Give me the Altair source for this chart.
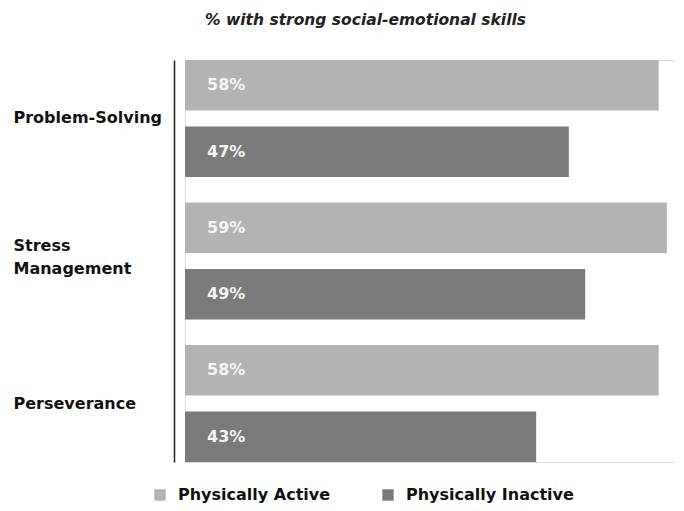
import altair as alt
import pandas as pd

skills = ["Problem-Solving", "Stress Management", "Perseverance"]
groups = ["Physically Active", "Physically Inactive"]
active = [58, 59, 58]
inactive = [47, 49, 43]
colors = ["#b3b3b3", "#7b7b7b"]

rows = []
for s, a, i in zip(skills, active, inactive):
    rows.append({"skill": s, "group": groups[0], "value": a, "label": f"{a}%"})
    rows.append({"skill": s, "group": groups[1], "value": i, "label": f"{i}%"})
df = pd.DataFrame(rows)

FONT = "DejaVu Sans"

y = alt.Y(
    "skill:N",
    sort=skills,
    scale=alt.Scale(paddingInner=0.18, paddingOuter=0),
    axis=alt.Axis(
        title=None,
        ticks=False,
        tickSize=0,
        offset=11,
        labelAlign="left",
        labelPadding=161,
        labelFont=FONT,
        labelFontSize=16,
        labelFontWeight="bold",
        labelColor="#111111",
        labelLineHeight=23,
        labelLimit=300,
        labelOffset={"condition": {"test": "datum.value == 'Stress Management'", "value": -15}, "value": 0},
        labelExpr="datum.value == 'Stress Management' ? ['Stress', 'Management'] : datum.value",
        domainColor="#222222",
        domainWidth=1.5,
        grid=False,
    ),
)
yoff = alt.YOffset("group:N", sort=groups, scale=alt.Scale(paddingInner=0.24, paddingOuter=0))
x = alt.X("value:Q", scale=alt.Scale(domain=[0, 59.5]), axis=None)

bars = alt.Chart(df).mark_bar().encode(
    y=y,
    yOffset=yoff,
    x=x,
    color=alt.Color(
        "group:N",
        sort=groups,
        scale=alt.Scale(domain=groups, range=colors),
        legend=alt.Legend(
            title=None,
            orient="none",
            legendX=-33,
            legendY=427,
            direction="horizontal",
            symbolType="square",
            symbolSize=130,
            symbolStrokeWidth=0,
            labelFont=FONT,
            labelFontSize=16,
            labelFontWeight="bold",
            labelColor="#111111",
            labelOffset=10,
            labelLimit=300,
            columnPadding=49,
        ),
    ),
)

labels = alt.Chart(df).mark_text(
    align="left", baseline="middle", dx=22, font=FONT, fontSize=16,
    fontWeight="bold", color="#f5f5f5"
).encode(
    y=alt.Y("skill:N", sort=skills),
    yOffset=alt.YOffset("group:N", sort=groups),
    x=alt.XDatum(0, axis=None),
    text="label:N",
)

chart = (
    alt.layer(bars, labels)
    .properties(
        width=490,
        height=402,
        autosize="none",
        padding={"left": 177, "top": 52, "right": 0, "bottom": 41},
        title=alt.Title(
            "% with strong social-emotional skills",
            anchor="start",
            frame="group",
            dx=20,
            offset=32,
            font=FONT,
            fontSize=15.5,
            fontStyle="italic",
            fontWeight="bold",
            color="#222222",
        ),
    )
    .configure_view(stroke="white", strokeOpacity=0, strokeWidth=0)
    .configure_axisX(disable=True)
    .configure(background="white")
)

chart.save("out.html", embed_options={"renderer": "svg", "actions": False})
